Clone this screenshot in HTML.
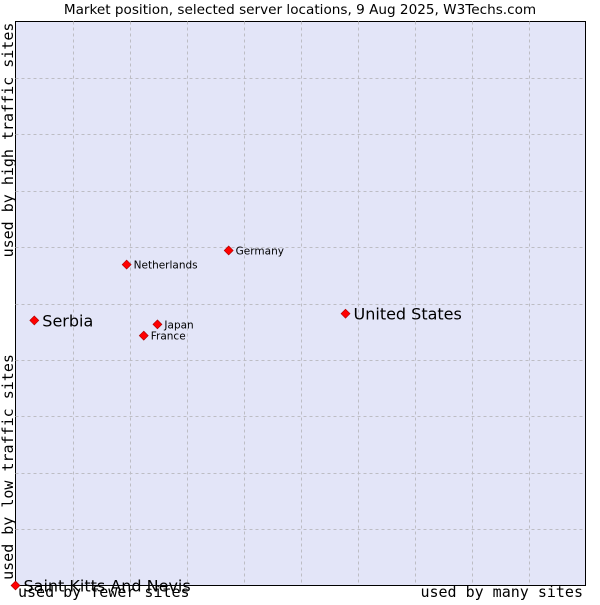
<!DOCTYPE html>
<html><head><meta charset="utf-8"><style>
body{margin:0;background:#fff;}
svg text{font-family:"DejaVu Sans","Liberation Sans",sans-serif;}
.mono{font-family:'DejaVu Sans Mono','Liberation Mono',monospace !important;}
</style></head><body>
<svg id="chart" width="600" height="600">
<text x="300" y="14" text-anchor="middle" font-size="13.6">Market position, selected server locations, 9 Aug 2025, W3Techs.com</text>
<rect x="15.5" y="21.5" width="570" height="564" fill="#e3e5f8" stroke="#000"/>
<g id="grid"></g>
<text class="mono" transform="translate(13,140) rotate(-90)" text-anchor="middle" font-size="15">used by high traffic sites</text>
<text class="mono" transform="translate(13,467) rotate(-90)" text-anchor="middle" font-size="15">used by low traffic sites</text>
<text class="mono" x="18" y="597" font-size="15">used by fewer sites</text>
<text class="mono" x="583" y="597" text-anchor="end" font-size="15">used by many sites</text>
<g id="points"></g>
</svg>
<script>
const names=["United States","Serbia","Saint Kitts And Nevis","Germany","Netherlands","Japan","France"];
const xVals=[5.79,0.33,0,3.74,1.95,2.49,2.25];
const yVals=[4.82,4.70,0,5.94,5.69,4.63,4.43];
const bigLabel=[true,true,true,false,false,false,false];
const L=15.5,T=21.5,W=570,H=564;
const sx=v=>L+v/10*W, sy=v=>T+H-v/10*H;
const ns="http://www.w3.org/2000/svg";
const g=document.getElementById('grid');
for(let i=1;i<10;i++){
 const v=document.createElementNS(ns,'line');
 v.setAttribute('x1',Math.round(sx(i))+0.5);v.setAttribute('x2',Math.round(sx(i))+0.5);v.setAttribute('y1',T);v.setAttribute('y2',T+H);
 v.setAttribute('stroke','#bdbdc4');v.setAttribute('stroke-dasharray','3,3');
 
 
 g.appendChild(v);
 const h=document.createElementNS(ns,'line');
 h.setAttribute('y1',Math.round(sy(i))+0.5);h.setAttribute('y2',Math.round(sy(i))+0.5);h.setAttribute('x1',L);h.setAttribute('x2',L+W);
 h.setAttribute('stroke','#bdbdc4');h.setAttribute('stroke-dasharray','3,3');
 
 
 g.appendChild(h);
}
const p=document.getElementById('points');
names.forEach((n,i)=>{
 const x=sx(xVals[i]),y=sy(yVals[i]);
 const d=document.createElementNS(ns,'polygon');
 d.setAttribute('points',`${x},${y-4.5} ${x+4.5},${y} ${x},${y+4.5} ${x-4.5},${y}`);
 d.setAttribute('fill','#f00');d.setAttribute('stroke','#a00');d.setAttribute('stroke-width','0.6');
 
 
 p.appendChild(d);
 const t=document.createElementNS(ns,'text');
 t.setAttribute('x',x+(bigLabel[i]?8:7));t.setAttribute('y',y+(bigLabel[i]?6:4));
 t.setAttribute('font-size',bigLabel[i]?'16':'10.5');
 t.textContent=n;
 
 
 p.appendChild(t);
});
</script>
</body></html>
